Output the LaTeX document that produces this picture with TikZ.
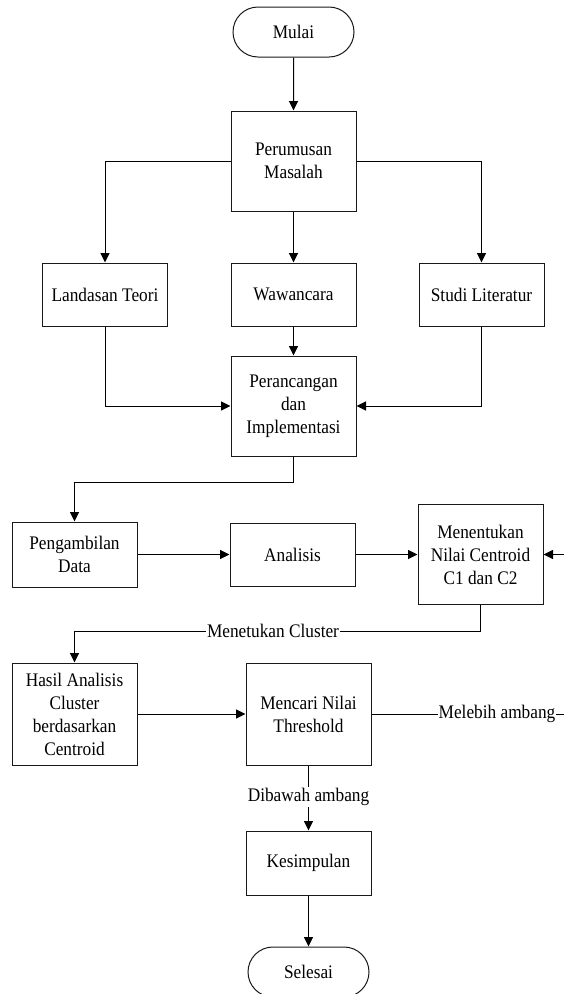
\documentclass[tikz,border=0pt]{standalone}
\usepackage{fontspec}
\setmainfont{Liberation Serif}[FakeStretch=0.9]
\usetikzlibrary{arrows.meta,shapes.misc}
\begin{document}
\begin{tikzpicture}[x=1pt,y=-1pt,
  txt/.style={font=\fontsize{19.2}{23}\selectfont},
  box/.style={txt,draw=black!90,line width=1pt,rectangle,minimum width=125pt,align=center,inner sep=2pt},
  term/.style={txt,draw=black!90,line width=1pt,rounded rectangle,minimum width=125pt,minimum height=50pt,inner sep=2pt},
  arr/.style={-{Triangle[length=9.5pt,width=9pt]},line width=1pt},
  lbl/.style={txt,fill=white,inner sep=1pt}]
\useasboundingbox (0,0) rectangle (564,994);
\clip (0,0) rectangle (564,994);
\fill[white] (0,0) rectangle (564,994);

\node[term] (mulai) at (293.5,32) {Mulai};
\node[box,minimum height=100pt] (perumusan) at (293.5,161) {Perumusan\\Masalah};
\node[box,minimum height=63pt] (landasan) at (105,294.5) {Landasan Teori};
\node[box,minimum height=63pt] (wawancara) at (293.5,294.5) {Wawancara};
\node[box,minimum height=63pt] (studi) at (481.5,294.5) {Studi Literatur};
\node[box,minimum height=100pt] (perancangan) at (293.5,406) {Perancangan\\dan\\Implementasi};
\node[box,minimum height=65pt] (pengambilan) at (74.5,554.5) {Pengambilan\\Data};
\node[box,minimum height=63pt] (analisis) at (292.5,554.5) {Analisis};
\node[box,minimum height=100pt] (menentukan) at (480.5,554.5) {Menentukan\\Nilai Centroid\\C1 dan C2};
\node[box,minimum height=102pt] (hasil) at (74.5,714) {Hasil Analisis\\Cluster\\berdasarkan\\Centroid};
\node[box,minimum height=102pt] (mencari) at (308.5,714) {Mencari Nilai\\Threshold};
\node[box,minimum height=64pt] (kesimpulan) at (308.5,863) {Kesimpulan};
\node[term] (selesai) at (308.5,972) {Selesai};

\coordinate (j1) at (293.5,482);
\coordinate (j2) at (480.5,631);
\coordinate (r1) at (585,714);
\coordinate (r2) at (585,554.5);

\draw[arr] (mulai) -- (perumusan);
\draw[arr] (perumusan.west) -| (landasan.north);
\draw[arr] (perumusan.east) -| (studi.north);
\draw[arr] (perumusan) -- (wawancara);
\draw[arr] (wawancara) -- (perancangan);
\draw[arr] (landasan.south) |- (perancangan.west);
\draw[arr] (studi.south) |- (perancangan.east);
\draw[arr] (perancangan.south) -- (j1) -| (pengambilan.north);
\draw[arr] (pengambilan) -- (analisis);
\draw[arr] (analisis) -- (menentukan);
\draw[arr] (menentukan.south) -- (j2) -| (hasil.north);
\draw[arr] (hasil) -- (mencari);
\draw[arr] (mencari.east) -- (r1) -- (r2) -- (menentukan.east);
\draw[arr] (mencari) -- (kesimpulan);
\draw[arr] (kesimpulan) -- (selesai);

\node[lbl] (l1) at (273,631) {Menetukan Cluster};
\node[lbl] (l2) at (497,714) {Melebih ambang};
\node[lbl] (l3) at (308.5,797) {Dibawah ambang};
\end{tikzpicture}
\end{document}
